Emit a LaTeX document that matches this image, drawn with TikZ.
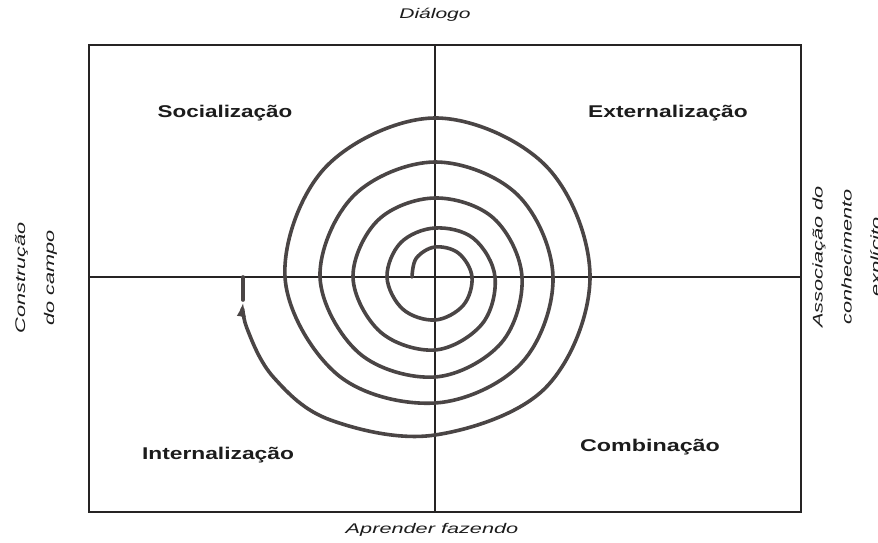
\documentclass[tikz,border=0pt]{standalone}
\usepackage{fontspec}
\usepackage{graphicx}
\newfontfamily\labfont{Liberation Sans}
\usetikzlibrary{arrows.meta}
\definecolor{inkline}{HTML}{262424}
\definecolor{spiralink}{HTML}{4A4545}
\definecolor{txt}{HTML}{1C1C1C}
\begin{document}
\begin{tikzpicture}[x=1pt,y=-1pt,
  framebox/.style={draw=inkline,line width=2.6pt},
  axisline/.style={draw=inkline,line width=2pt},
  spiralline/.style={draw=spiralink,line width=3.6pt,line cap=round,line join=round},
  quad/.style={text=txt,inner sep=0pt,font=\labfont\bfseries\fontsize{17}{20}\selectfont},
  edge/.style={text=txt,inner sep=0pt,align=center,font=\labfont\itshape\fontsize{14}{29}\selectfont}]
\useasboundingbox[fill=white] (0,0) rectangle (878,543);
% frame and axes
\coordinate (tl) at (89,45);
\coordinate (br) at (801,512);
\coordinate (top) at (435,45);
\coordinate (bot) at (435,512);
\coordinate (lft) at (89,277);
\coordinate (rgt) at (801,277);
\coordinate (ctr) at (435,277);
\draw[framebox] (tl) rectangle (br);
\draw[axisline] (top) -- (bot);
\draw[axisline] (lft) -- (rgt);
% spiral
\begin{scope}[shift={(ctr)}]
\draw[spiralline,-{Latex[length=16pt,width=9pt]}] plot[smooth,tension=0.6] coordinates {
 (-180:23) (-135:26.5) (-90:30) (-45:33.5) (0:37) (45:40) (90:43) (135:45.5)
 (180:48) (225:48.5) (270:49) (315:54.5) (360:60) (405:66.5) (450:73) (495:77.5)
 (540:82) (585:80.5) (630:79) (675:83) (720:87) (765:93.5) (810:100) (855:107.5)
 (900:115) (945:115) (990:115) (1035:116.5) (1080:118) (1125:122) (1170:126) (1215:138)
 (1260:150) (1305:155) (1350:159) (1395:157) (1440:155) (1485:156.5) (1530:158)
 (1566:177) (1588:190) (1605:195) (1613:193)};
\end{scope}
\coordinate (tailtip) at (243,300);
\coordinate (tailend) at (243,277);
\draw[spiralline] (tailtip) -- (tailend);
% quadrant labels
\node[quad] (soc) at (225,113) {\scalebox{1.32}[1]{Socialização}};
\node[quad] (ext) at (668,113) {\scalebox{1.34}[1]{Externalização}};
\node[quad] (int) at (218,455) {\scalebox{1.34}[1]{Internalização}};
\node[quad] (com) at (650,447) {\scalebox{1.37}[1]{Combinação}};
% edge labels
\node[edge] (dia) at (435,15) {\scalebox{1.5}[1]{Diálogo}};
\node[edge] (apr) at (432,530) {\scalebox{1.55}[1]{Aprender fazendo}};
\node[edge,rotate=90] (con) at (36,278) {\scalebox{1.55}[1]{Construção}\\\scalebox{1.55}[1]{do campo}};
\node[edge,rotate=90] (ass) at (848,257) {\scalebox{1.55}[1]{Associação do}\\\scalebox{1.55}[1]{conhecimento}\\\scalebox{1.55}[1]{explícito}};
\end{tikzpicture}
\end{document}
